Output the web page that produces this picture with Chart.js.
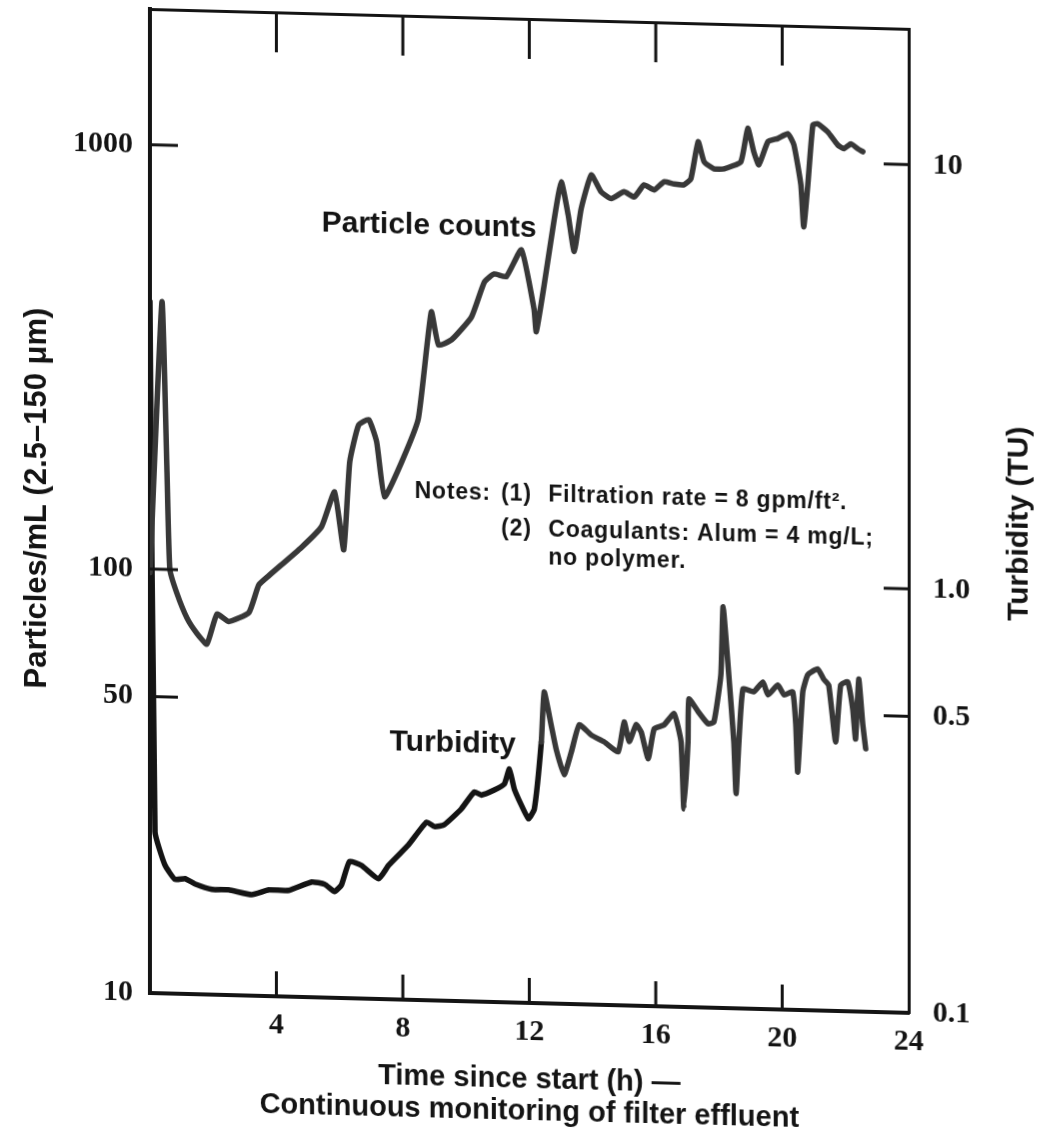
<!DOCTYPE html>
<html lang="en">
<head>
    <meta charset="UTF-8">
    <title>Particle counts and turbidity</title>
    <script src="https://cdn.jsdelivr.net/npm/chart.js@4.4.1/dist/chart.umd.min.js"></script>
    <style>
        body { margin: 0; background: #fff; }
        /* the scanned figure is slightly sheared: right side sits lower */
        #chart { display: block; transform: skewY(1.5deg); transform-origin: 150px 0; }
    </style>
</head>
<body>
<canvas id="chart" width="1051" height="1136"></canvas>
<script>
// Time since start (h) and particle counts (particles/mL, 2.5-150 um)
const particleTime = [0, 0.38, 0.54, 0.63, 0.85, 1.17, 1.48, 1.8, 2.12, 2.49,
    3.13, 3.44, 3.76, 4.8, 5.43, 5.84, 6.13, 6.32, 6.6, 6.92,
    7.17, 7.42, 7.96, 8.49, 8.9, 9.13, 9.54, 10.17, 10.58, 10.89,
    11.27, 11.75, 12.15, 12.22, 12.47, 12.79, 13.01, 13.23, 13.42, 13.64,
    13.96, 14.27, 14.59, 15.0, 15.32, 15.63, 15.95, 16.26, 16.58, 16.89,
    17.11, 17.34, 17.53, 17.84, 18.16, 18.69, 18.91, 19.1, 19.26, 19.55,
    19.86, 20.18, 20.37, 20.59, 20.68, 20.81, 20.97, 21.12, 21.44, 21.75,
    21.95, 22.17, 22.39, 22.55];
const particleCounts = [98, 427, 169, 100, 88, 77, 71, 67, 79, 76,
    80, 93, 98, 115, 129, 156, 114, 184, 225, 232,
    206, 153, 185, 235, 420, 351, 362, 411, 498, 521,
    514, 596, 433, 383, 494, 708, 867, 725, 595, 751,
    904, 826, 797, 829, 807, 863, 841, 880, 871, 868,
    898, 1099, 986, 951, 952, 992, 1191, 1049, 978, 1111,
    1131, 1163, 1095, 883, 703, 884, 1224, 1232, 1181, 1103,
    1080, 1111, 1082, 1066];

// Time since start (h) and turbidity (TU)
const turbidityTime = [0, 0.16, 0.47, 0.79, 1.11, 1.42, 1.96, 2.49, 3.22, 3.76,
    4.39, 5.12, 5.53, 5.84, 6.06, 6.31, 6.69, 7.23, 7.55, 8.18,
    8.75, 9.0, 9.31, 9.85, 10.26, 10.48, 10.89, 11.21, 11.37, 11.53,
    11.97, 12.16, 12.38, 12.47, 12.69, 12.85, 13.1, 13.33, 13.58, 13.96,
    14.37, 14.81, 15.0, 15.16, 15.38, 15.54, 15.76, 15.95, 16.26, 16.58,
    16.8, 16.89, 17.02, 17.05, 17.34, 17.65, 17.84, 18.06, 18.13, 18.32,
    18.47, 18.54, 18.63, 18.76, 19.1, 19.39, 19.55, 19.86, 20.06, 20.33,
    20.43, 20.49, 20.65, 20.81, 21.12, 21.31, 21.47, 21.69, 21.85, 22.07,
    22.23, 22.32, 22.42, 22.55, 22.64];
const turbidity = [4.27, 0.24, 0.201, 0.186, 0.187, 0.182, 0.177, 0.177, 0.173, 0.178,
    0.178, 0.187, 0.185, 0.178, 0.185, 0.21, 0.206, 0.192, 0.207, 0.232,
    0.263, 0.257, 0.26, 0.284, 0.312, 0.307, 0.316, 0.327, 0.355, 0.318,
    0.272, 0.287, 0.413, 0.542, 0.454, 0.398, 0.347, 0.393, 0.456, 0.432,
    0.417, 0.396, 0.466, 0.419, 0.46, 0.442, 0.383, 0.451, 0.461, 0.491,
    0.422, 0.293, 0.422, 0.533, 0.498, 0.467, 0.472, 0.611, 0.883, 0.597,
    0.425, 0.321, 0.425, 0.567, 0.559, 0.59, 0.551, 0.582, 0.552, 0.562,
    0.47, 0.364, 0.563, 0.618, 0.639, 0.605, 0.586, 0.431, 0.587, 0.598,
    0.517, 0.439, 0.608, 0.474, 0.417];

// tick values
const timeTicks = [0, 4, 8, 12, 16, 20, 24];
const particleTicks = [10, 50, 100, 1000];
const turbidityTicks = [0.1, 0.5, 1, 10];
const turbidityTickLabels = ['0.1', '0.5', '1.0', '10'];

const numFont = { family: "'Liberation Serif', 'DejaVu Serif', serif", size: 30, weight: 'bold' };
const textFamily = "'Liberation Sans', Arial, sans-serif";
const ink = '#141414';
const grey = '#383838';

// inward tick marks + the annotations written inside the figure
const figureMarks = {
    id: 'figureMarks',
    afterDraw(chart) {
        const { ctx, chartArea: a, scales } = chart;
        ctx.save();
        ctx.strokeStyle = ink;
        ctx.lineWidth = 3;
        ctx.beginPath();
        timeTicks.slice(1, -1).forEach(v => {
            const px = scales.x.getPixelForValue(v);
            ctx.moveTo(px, a.bottom); ctx.lineTo(px, a.bottom - 25);
            ctx.moveTo(px, a.top); ctx.lineTo(px, a.top + 40);
        });
        particleTicks.slice(1).forEach(v => {
            const py = scales.y.getPixelForValue(v);
            ctx.moveTo(a.left, py); ctx.lineTo(a.left + 28, py);
        });
        turbidityTicks.slice(1).forEach(v => {
            const py = scales.y2.getPixelForValue(v);
            ctx.moveTo(a.right, py); ctx.lineTo(a.right - 25, py);
        });
        ctx.stroke();

        ctx.fillStyle = ink;
        ctx.textBaseline = 'alphabetic';
        ctx.textAlign = 'left';
        const X = v => scales.x.getPixelForValue(v);
        const Y = v => scales.y.getPixelForValue(v);

        ctx.font = 'bold 30px ' + textFamily;
        ctx.fillText('Particle counts', X(5.43), Y(641));
        ctx.fillText('Turbidity', X(7.58), scales.y2.getPixelForValue(0.387));

        ctx.font = 'bold 23px ' + textFamily;
        ctx.letterSpacing = '0.8px';
        ctx.fillText('Notes:', X(8.37), Y(153));
        ctx.fillText('(1)', X(11.11), Y(153));
        ctx.fillText('Filtration rate = 8 gpm/ft\u00B2.', X(12.6), Y(153));
        ctx.fillText('(2)', X(11.11), Y(126));
        ctx.fillText('Coagulants: Alum = 4 mg/L;', X(12.6), Y(126));
        ctx.fillText('no polymer.', X(12.6), Y(108.5));
        ctx.letterSpacing = '0px';

        // right axis title reads bottom to top, like the left one
        ctx.font = 'bold 30px ' + textFamily;
        ctx.textAlign = 'center';
        ctx.textBaseline = 'middle';
        ctx.translate(a.right + 111, (a.top + a.bottom) / 2);
        ctx.rotate(-Math.PI / 2);
        ctx.fillText('Turbidity (TU)', 0, 0);
        ctx.restore();
    }
};

// keep the plot box where the figure has it: no extra room for edge labels
const noEdgePadding = s => {
    s.paddingTop = 0; s.paddingBottom = 0;
    s.paddingLeft = 0; s.paddingRight = 0;
};

const ctx = document.getElementById('chart').getContext('2d');
new Chart(ctx, {
    type: 'line',
    data: {
        datasets: [{
            label: 'Particle counts',
            data: particleTime.map((t, i) => ({ x: t, y: particleCounts[i] })),
            yAxisID: 'y',
            borderColor: grey,
            borderWidth: 5.5,
            pointRadius: 0,
            tension: 0.15,
            borderJoinStyle: 'round',
            borderCapStyle: 'round'
        }, {
            label: 'Turbidity',
            data: turbidityTime.map((t, i) => ({ x: t, y: turbidity[i] })),
            yAxisID: 'y2',
            borderColor: ink,
            segment: { borderColor: c => c.p0.parsed.x >= 12.3 ? grey : ink },
            borderWidth: 5.5,
            pointRadius: 0,
            tension: 0.15,
            borderJoinStyle: 'round',
            borderCapStyle: 'round'
        }]
    },
    options: {
        responsive: false,
        animation: false,
        layout: { padding: 0 },
        plugins: { legend: { display: false }, tooltip: { enabled: false } },
        scales: {
            x: {
                type: 'linear', position: 'bottom', min: 0, max: 24,
                afterBuildTicks: s => { s.ticks = timeTicks.map(v => ({ value: v })); },
                afterFit: s => { s.height = 143; noEdgePadding(s); },
                grid: { display: false, drawTicks: false },
                border: { display: true, width: 4, color: ink },
                ticks: {
                    font: numFont, color: ink, padding: 11, maxRotation: 0, autoSkip: false,
                    callback: v => v === 0 ? '' : String(v)
                },
                title: {
                    display: true,
                    text: ['Time since start (h) \u2014', 'Continuous monitoring of filter effluent'],
                    font: { family: textFamily, size: 29, weight: 'bold', lineHeight: 1.1 },
                    color: ink,
                    padding: { top: 0, bottom: 18 }
                }
            },
            x2: {
                type: 'linear', position: 'top', min: 0, max: 24,
                afterFit: s => { s.height = 9; noEdgePadding(s); },
                grid: { display: false, drawTicks: false },
                border: { display: true, width: 3, color: ink },
                ticks: { display: false }
            },
            y: {
                type: 'logarithmic', position: 'left', min: 10, max: 2090,
                afterBuildTicks: s => { s.ticks = particleTicks.map(v => ({ value: v })); },
                afterFit: s => { s.width = 150; noEdgePadding(s); },
                grid: { display: false, drawTicks: false },
                border: { display: true, width: 4, color: ink },
                ticks: { font: numFont, color: ink, padding: 17, callback: v => String(v) },
                title: {
                    display: true,
                    text: 'Particles/mL (2.5\u2013150 \u03BCm)',
                    font: { family: textFamily, size: 31, weight: 'bold' },
                    color: ink,
                    padding: { top: 19, bottom: 0 }
                }
            },
            y2: {
                type: 'logarithmic', position: 'right', min: 0.1, max: 20.9,
                afterBuildTicks: s => { s.ticks = turbidityTicks.map(v => ({ value: v })); },
                afterFit: s => { s.width = 142; noEdgePadding(s); },
                grid: { display: false, drawTicks: false },
                border: { display: true, width: 3, color: ink },
                ticks: {
                    font: numFont, color: ink, padding: 24,
                    callback: v => turbidityTickLabels[turbidityTicks.indexOf(v)] ?? ''
                }
            }
        }
    },
    plugins: [figureMarks]
});
</script>
</body>
</html>
